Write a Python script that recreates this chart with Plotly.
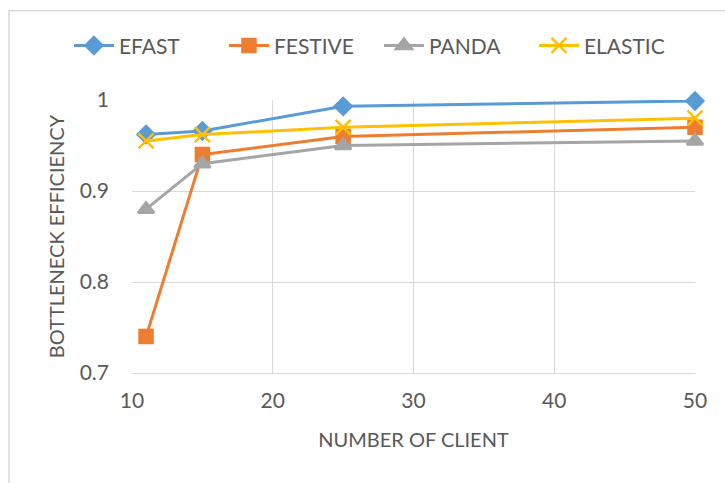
import plotly.graph_objects as go

# Number of clients on the x axis
clients = [11, 15, 25, 50]

# Bottleneck efficiency per scheme
efast = [0.962, 0.966, 0.993, 0.999]
festive = [0.740, 0.940, 0.960, 0.970]
panda = [0.880, 0.930, 0.950, 0.955]
elastic = [0.955, 0.962, 0.970, 0.980]

x_ticks = [10, 20, 30, 40, 50]
y_ticks = [0.7, 0.8, 0.9, 1.0]
y_tick_text = ["0.7", "0.8", "0.9", "1"]

series = [
    ("EFAST", efast, "#5B9BD5", "diamond", 13),
    ("FESTIVE", festive, "#ED7D31", "square", 13),
    ("PANDA", panda, "#A5A5A5", "triangle-up", 14),
    ("ELASTIC", elastic, "#FFC000", "x-thin-open", 15),
]

fig = go.Figure()
for name, vals, color, symbol, size in series:
    fig.add_trace(go.Scatter(
        x=clients, y=vals, name=name, mode="lines+markers",
        line=dict(color=color, width=3),
        marker=dict(symbol=symbol, size=size, color=color,
                    line=dict(color=color, width=2.5)),
        cliponaxis=False,
    ))

grid = "#D9D9D9"
text_color = "#595959"
tick_font = dict(family="Lato, Open Sans, sans-serif", size=21, color=text_color)
title_font = dict(family="Lato, Open Sans, sans-serif", size=20, color=text_color)

fig.update_layout(
    width=725, height=483,
    margin=dict(l=132, r=30, t=100, b=110),
    paper_bgcolor="white", plot_bgcolor="white",
    showlegend=True,
    legend=dict(
        orientation="h", x=-0.112, xanchor="left", y=1.1985, yanchor="middle",
        font=dict(family="Lato, Open Sans, sans-serif", size=21, color=text_color),
        itemwidth=40, entrywidth=100, traceorder="normal",
        bgcolor="rgba(0,0,0,0)",
    ),
    xaxis=dict(
        range=[10, 50], tickvals=x_ticks, showgrid=True, gridcolor=grid, gridwidth=1,
        showline=True, linecolor=grid, linewidth=1, zeroline=False,
        tickfont=tick_font, ticks="", ticklabelstandoff=9,
        title=dict(text="NUMBER OF CLIENT", font=title_font, standoff=21),
    ),
    yaxis=dict(
        range=[0.7, 1.0], tickvals=y_ticks, ticktext=y_tick_text,
        showgrid=True, gridcolor=grid, gridwidth=1,
        showline=False, zeroline=False,
        tickfont=tick_font, ticks="", ticklabelstandoff=22,
        title=dict(text="BOTTLENECK EFFICIENCY", font=title_font, standoff=9),
    ),
    shapes=[
        # outer chart frame
        dict(type="rect", xref="paper", yref="paper",
             x0=-0.2185, x1=1.2, y0=-0.5, y1=1.327,
             line=dict(color="#D9D9D9", width=1.5), fillcolor="rgba(0,0,0,0)", layer="below"),
    ],
)

fig.write_html("out.html")
